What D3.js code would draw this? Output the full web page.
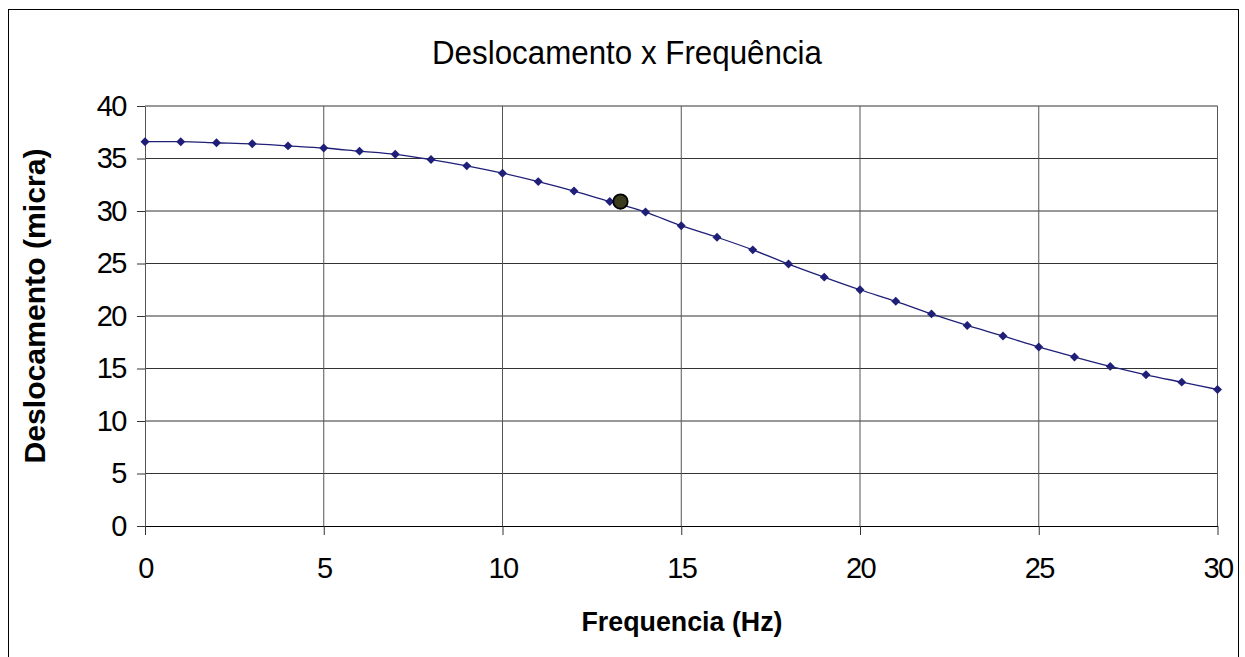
<!DOCTYPE html>
<html>
<head>
<meta charset="utf-8">
<script src="https://cdn.jsdelivr.net/npm/d3@7"></script>
<style>
  html, body { margin: 0; padding: 0; background: #fff; }
  svg { display: block; font-family: 'Liberation Sans', Arial, sans-serif; }
</style>
</head>
<body>
<div id="chart"></div>
<script>
// frequency (Hz) and displacement (micra)
const freq = d3.range(0, 31)
const desloc = [
  36.6, 36.6, 36.5, 36.4, 36.2, 36.0, 35.7, 35.4, 34.9, 34.3,
  33.6, 32.8, 31.9, 30.9, 29.9, 28.6, 27.5, 26.3, 24.95, 23.7,
  22.5, 21.4, 20.2, 19.1, 18.1, 17.05, 16.1, 15.2, 14.4, 13.7,
  13.0
]
const highlight = [13.3, 30.9]
const xTicks = [0, 5, 10, 15, 20, 25, 30]
const yTicks = [0, 5, 10, 15, 20, 25, 30, 35, 40]

const W = 1245
const H = 657
const margin = { top: 106, right: 27.5, bottom: 131, left: 145 }
const width = W - margin.left - margin.right
const height = H - margin.top - margin.bottom

const svg = d3.select('#chart')
  .append('svg')
  .attr('width', W)
  .attr('height', H)

svg.append('rect')
  .attr('x', 8.5)
  .attr('y', 9.5)
  .attr('width', 1230)
  .attr('height', 660)
  .attr('fill', '#fff')
  .attr('stroke', '#000')
  .attr('stroke-width', 1)

const g = svg.append('g')
  .attr('transform', `translate(${margin.left}, ${margin.top})`)

const x = d3.scaleLinear().domain([0, 30]).range([0, width])
const y = d3.scaleLinear().domain([0, 40]).range([height, 0])

// horizontal gridlines
g.append('g')
  .selectAll('line')
  .data(yTicks.filter((d) => d > 0))
  .enter()
  .append('line')
  .attr('x1', 0)
  .attr('x2', width)
  .attr('y1', (d) => y(d))
  .attr('y2', (d) => y(d))
  .attr('stroke', '#333')
  .attr('stroke-width', 1)

// vertical gridlines
g.append('g')
  .selectAll('line')
  .data(xTicks.filter((d) => d > 0))
  .enter()
  .append('line')
  .attr('x1', (d) => x(d))
  .attr('x2', (d) => x(d))
  .attr('y1', 0)
  .attr('y2', height)
  .attr('stroke', '#555')
  .attr('stroke-width', 1)

// axes
const xAxis = g.append('g')
  .attr('transform', `translate(0, ${height})`)
  .call(d3.axisBottom(x).tickValues(xTicks).tickSize(9).tickSizeOuter(0).tickPadding(22))
xAxis.select('.domain').attr('stroke', '#000')
xAxis.selectAll('.tick line').attr('stroke', '#333')
xAxis.selectAll('text')
  .attr('font-size', 29)
  .attr('letter-spacing', -1.5)
  .attr('fill', '#000')
  .attr('font-family', "'Liberation Sans', Arial, sans-serif")

const yAxis = g.append('g')
  .call(d3.axisLeft(y).tickValues(yTicks).tickSize(8).tickSizeOuter(0).tickPadding(11))
yAxis.select('.domain').attr('stroke', '#555')
yAxis.selectAll('.tick line').attr('stroke', '#333')
yAxis.selectAll('text')
  .attr('font-size', 29)
  .attr('letter-spacing', -1.5)
  .attr('fill', '#000')
  .attr('font-family', "'Liberation Sans', Arial, sans-serif")

// series
const points = freq.map((f, i) => [f, desloc[i]])
const line = d3.line()
  .x((d) => x(d[0]))
  .y((d) => y(d[1]))
  .curve(d3.curveCatmullRom.alpha(0.5))

g.append('path')
  .datum(points)
  .attr('fill', 'none')
  .attr('stroke', '#1f1f78')
  .attr('stroke-width', 1.3)
  .attr('d', line)

const marker = d3.symbol().type(d3.symbolSquare).size(40)
g.append('g')
  .selectAll('path')
  .data(points)
  .enter()
  .append('path')
  .attr('d', marker)
  .attr('transform', (d) => `translate(${x(d[0])}, ${y(d[1])}) rotate(45)`)
  .attr('fill', '#1f1f78')

g.append('circle')
  .attr('cx', x(highlight[0]))
  .attr('cy', y(highlight[1]))
  .attr('r', 7.2)
  .attr('fill', '#3b3b1e')
  .attr('stroke', '#000')
  .attr('stroke-width', 1.8)

// titles
svg.append('text')
  .attr('x', 627)
  .attr('y', 64)
  .attr('text-anchor', 'middle')
  .attr('font-size', 34)
  .attr('textLength', 390)
  .attr('lengthAdjust', 'spacingAndGlyphs')
  .text('Deslocamento x Frequência')

svg.append('text')
  .attr('x', 682)
  .attr('y', 631)
  .attr('text-anchor', 'middle')
  .attr('font-size', 27)
  .attr('font-weight', 'bold')
  .attr('textLength', 201)
  .attr('lengthAdjust', 'spacingAndGlyphs')
  .text('Frequencia (Hz)')

svg.append('text')
  .attr('transform', 'translate(45, 306) rotate(-90)')
  .attr('text-anchor', 'middle')
  .attr('font-size', 29)
  .attr('font-weight', 'bold')
  .attr('textLength', 315)
  .attr('lengthAdjust', 'spacingAndGlyphs')
  .text('Deslocamento (micra)')
</script>
</body>
</html>
